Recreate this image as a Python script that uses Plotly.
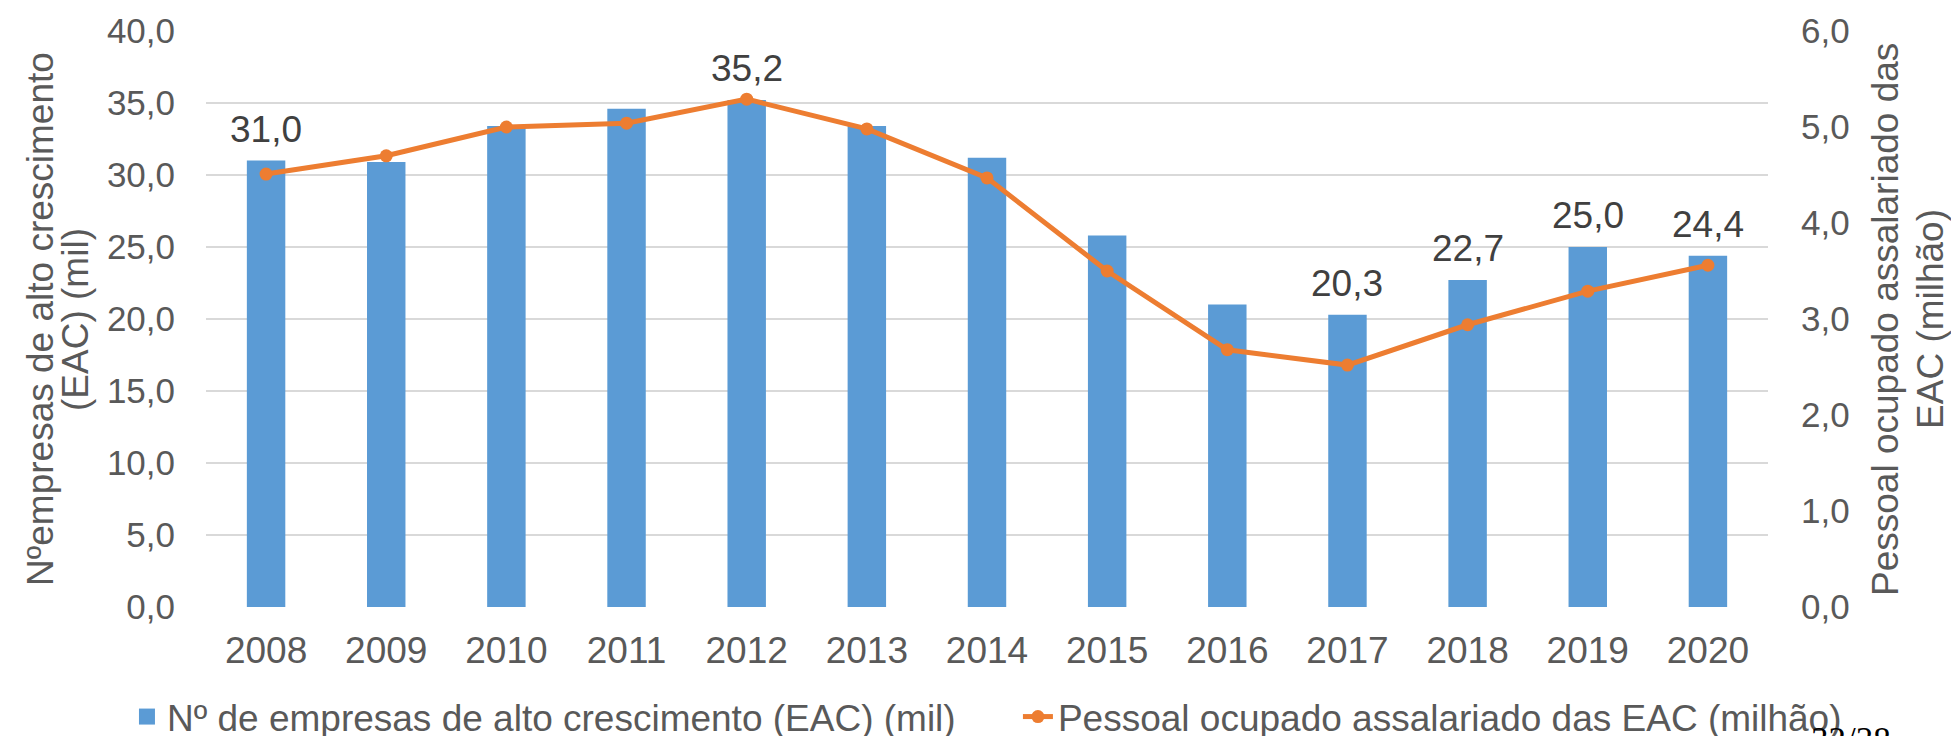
import plotly.graph_objects as go

anos = ['2008', '2009', '2010', '2011', '2012', '2013', '2014',
        '2015', '2016', '2017', '2018', '2019', '2020']
empresas_eac = [31.0, 30.9, 33.4, 34.6, 35.2, 33.4, 31.2, 25.8, 21.0, 20.3, 22.7, 25.0, 24.4]
pessoal_eac = [4.51, 4.70, 5.00, 5.04, 5.29, 4.98, 4.47, 3.50, 2.68, 2.52, 2.94, 3.29, 3.56]
anos_rotulo = ['2008', '2012', '2017', '2018', '2019', '2020']

nome_barras = 'Nº de empresas de alto crescimento (EAC) (mil)'
nome_linha = 'Pessoal ocupado assalariado das EAC (milhão)'
titulo_esq = ['Nºempresas de alto crescimento', '(EAC) (mil)']
titulo_dir = ['Pessoal ocupado assalariado das', 'EAC (milhão)']

fonte = 'Liberation Sans, Arial, sans-serif'
cinza = '#595959'
azul = '#5B9BD5'
laranja = '#ED7D31'
tam = 37

fig = go.Figure()
fig.add_trace(go.Bar(x=anos, y=empresas_eac, name=nome_barras, width=0.32,
                     marker=dict(color=azul, line=dict(width=0)), showlegend=False))
# so para a legenda ter o quadrado maior, como no Excel
fig.add_trace(go.Scatter(x=[None], y=[None], name=nome_barras, mode='markers',
                         marker=dict(color=azul, symbol='square', size=20), legend='legend'))
fig.add_trace(go.Scatter(x=anos, y=pessoal_eac, name=nome_linha, yaxis='y2',
                         mode='lines+markers',
                         line=dict(color=laranja, width=5),
                         marker=dict(color=laranja, size=13), legend='legend2'))

# rotulos de dados so em alguns anos (x pelo indice da categoria)
for i, (ano, val) in enumerate(zip(anos, empresas_eac)):
    if ano in anos_rotulo:
        fig.add_annotation(x=i, y=val, text=f'{val:.1f}'.replace('.', ','),
                           showarrow=False, yanchor='bottom', yshift=9,
                           font=dict(family=fonte, size=tam, color='#404040'))

# titulos dos eixos, uma linha por anotacao
for xp, linha in zip([-0.1063, -0.0839], titulo_esq):
    fig.add_annotation(xref='paper', yref='paper', x=xp, y=0.5, textangle=-90, text=linha,
                       showarrow=False, xanchor='center', yanchor='middle',
                       font=dict(family=fonte, size=tam, color=cinza))
for xp, linha in zip([1.0749, 1.1037], titulo_dir):
    fig.add_annotation(xref='paper', yref='paper', x=xp, y=0.5, textangle=-90, text=linha,
                       showarrow=False, xanchor='center', yanchor='middle',
                       font=dict(family=fonte, size=tam, color=cinza))

# numero de pagina cortado no canto
fig.add_annotation(xref='paper', yref='paper', x=1.0262, y=-0.1944, text='32/38',
                   showarrow=False, xanchor='left', yanchor='top',
                   font=dict(family='Liberation Serif, Times New Roman, serif', size=35, color='black'))

leg = dict(orientation='h', y=-0.191, xanchor='left', yanchor='middle',
           font=dict(family=fonte, size=tam, color=cinza), bgcolor='rgba(0,0,0,0)')

fig.update_layout(
    width=1951, height=736,
    margin=dict(l=206, r=183, t=31, b=129, autoexpand=False),
    paper_bgcolor='white', plot_bgcolor='white',
    separators=',.',
    font=dict(family=fonte, size=tam, color=cinza),
    showlegend=True,
    legend=dict(leg, x=-0.0506),
    legend2=dict(leg, x=0.5198),
    xaxis=dict(type='category', range=[-0.5, len(anos) - 0.5], showgrid=False, zeroline=False,
               showline=False, ticks='', ticklabelstandoff=18,
               tickfont=dict(size=tam, color=cinza)),
    yaxis=dict(range=[0, 40], dtick=5, tickformat='.1f', gridcolor='#D9D9D9', gridwidth=2,
               zeroline=False, showline=False, ticks='', ticklabelstandoff=30,
               tickfont=dict(size=35, color=cinza)),
    yaxis2=dict(range=[0, 6], dtick=1, tickformat='.1f', overlaying='y', side='right',
                showgrid=False, zeroline=False, showline=False, ticks='', ticklabelstandoff=32,
                tickfont=dict(size=35, color=cinza)),
)

# tira a margem padrao do body para o grafico encostar no canto
fig.write_html('out.html', config={'displayModeBar': False},
               post_script="document.body.style.margin='0';document.body.style.overflow='hidden';")
